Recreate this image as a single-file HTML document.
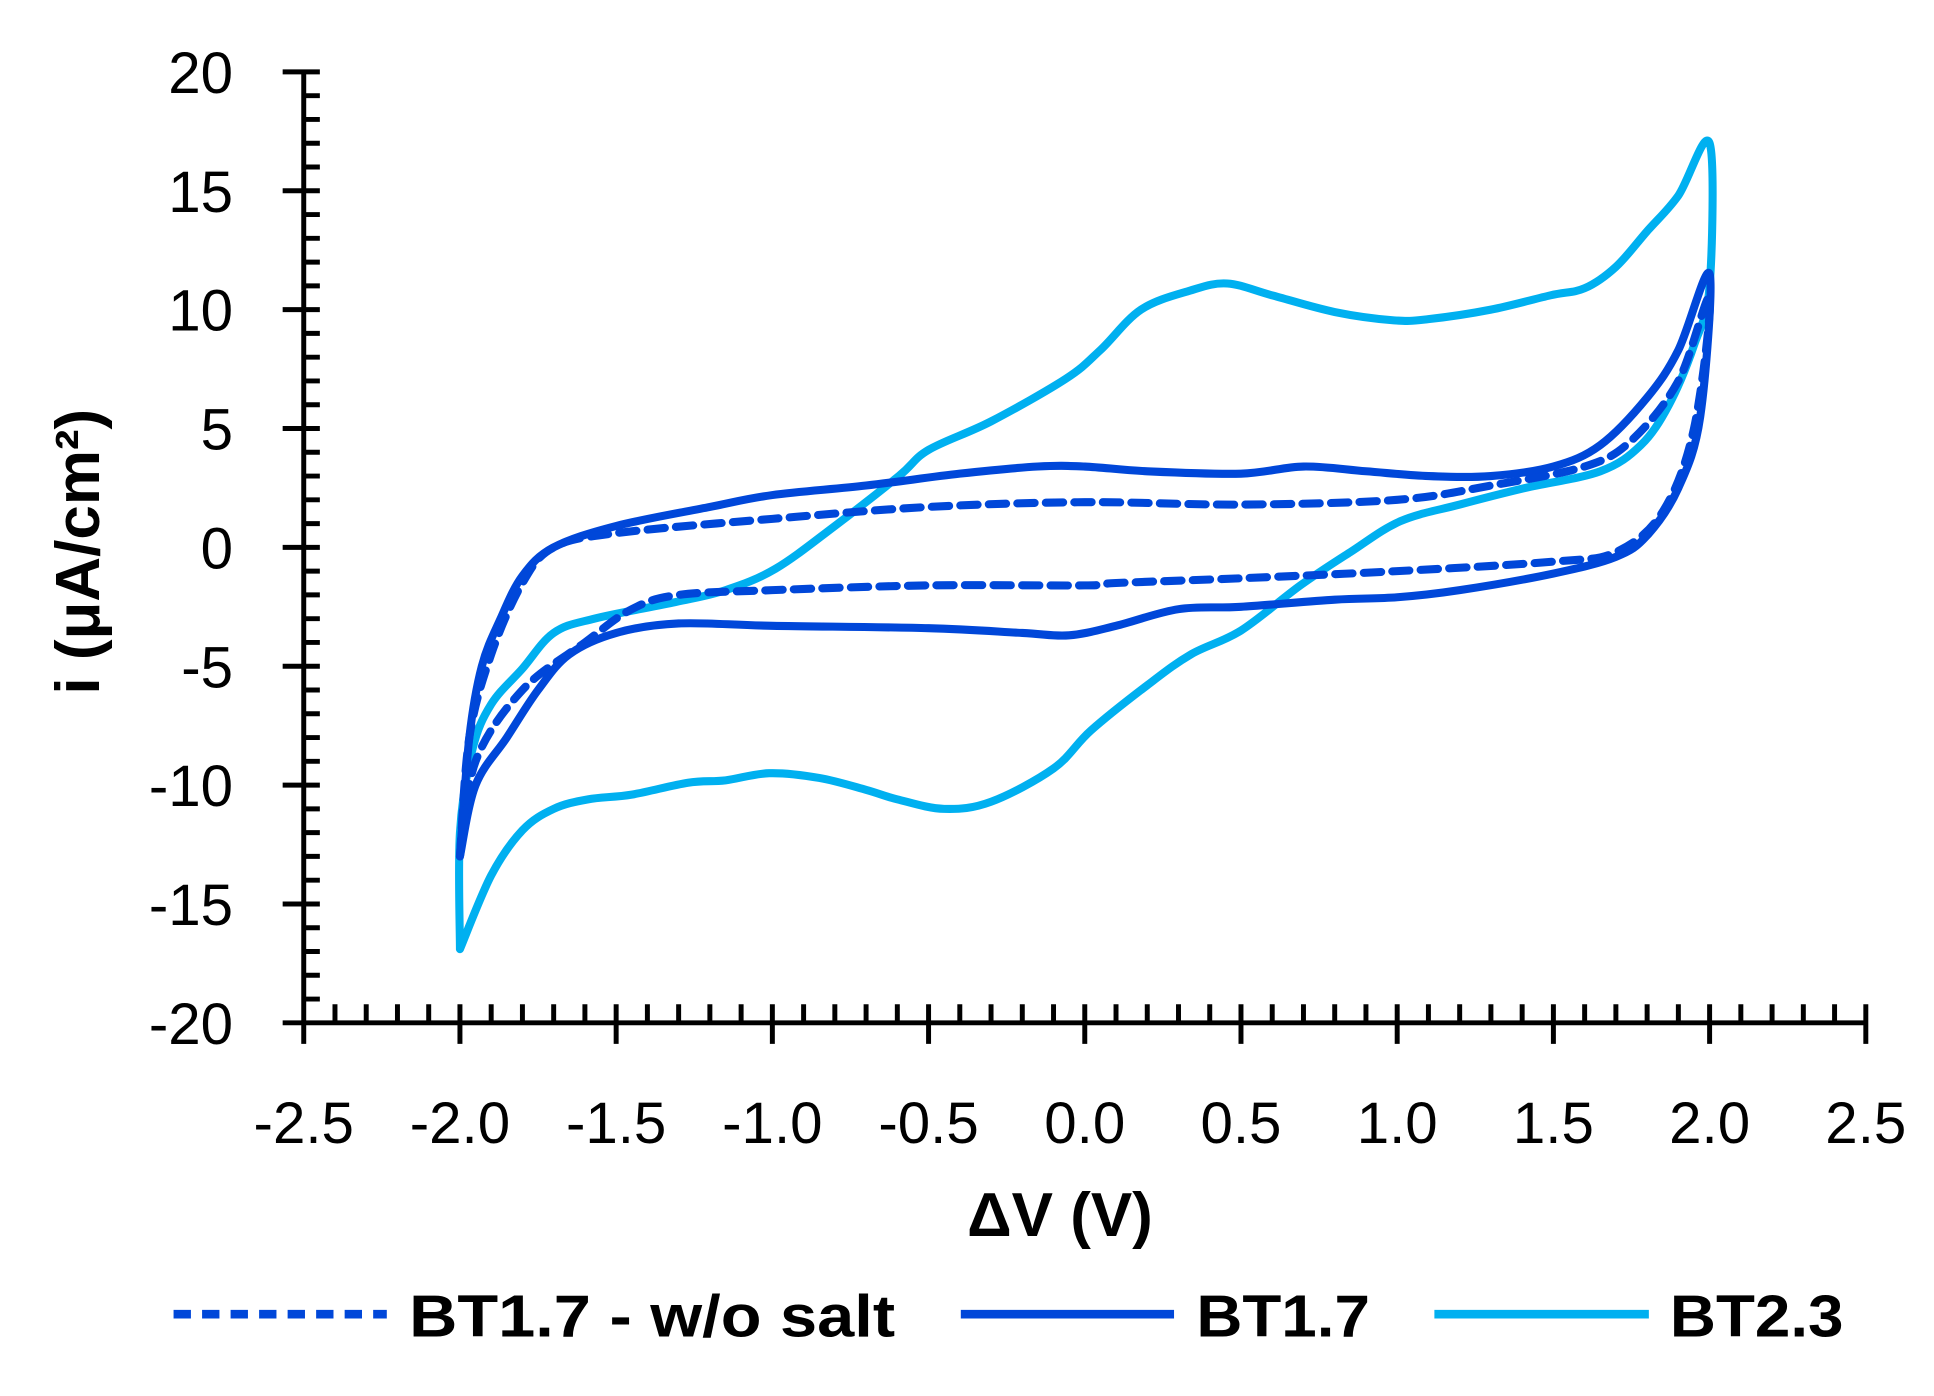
<!DOCTYPE html>
<html><head><meta charset="utf-8"><style>
html,body{margin:0;padding:0;background:#fff;}
svg{display:block;}
text{font-family:"Liberation Sans",sans-serif;fill:#000;}
</style></head><body>
<svg id="s" width="1934" height="1396" viewBox="0 0 1560 1126" preserveAspectRatio="none" xmlns="http://www.w3.org/2000/svg">
<g id="axes" stroke="#000" stroke-width="4" fill="none"></g>
<g id="labels" font-size="47" text-anchor="end"></g>
<g id="xl" font-size="47" text-anchor="middle"></g>
<text x="855" y="997" font-size="50" font-weight="bold" text-anchor="middle">ΔV (V)</text>
<text transform="translate(80,445) rotate(-90)" font-size="50" font-weight="bold" text-anchor="middle">i (μA/cm²)</text>
<g id="data" fill="none" stroke-width="6.5" stroke-linejoin="round" stroke-linecap="round"></g>
<line x1="140" y1="1060" x2="312" y2="1060" stroke="#0047d9" stroke-width="7" stroke-dasharray="14,9"/>
<text x="330" y="1078" font-size="48" font-weight="bold" textLength="392" lengthAdjust="spacingAndGlyphs">BT1.7 - w/o salt</text>
<line x1="775" y1="1060" x2="947" y2="1060" stroke="#0047d9" stroke-width="7"/>
<text x="965" y="1078" font-size="48" font-weight="bold" textLength="140" lengthAdjust="spacingAndGlyphs">BT1.7</text>
<line x1="1157" y1="1060" x2="1330" y2="1060" stroke="#00b0f0" stroke-width="7"/>
<text x="1347" y="1078" font-size="48" font-weight="bold" textLength="140" lengthAdjust="spacingAndGlyphs">BT2.3</text>
</svg>
<script>
var NS="http://www.w3.org/2000/svg";
function X(v){return 245+(v+2.5)*252;}
function Y(i){return 441.5-i*19.175;}
function el(p,t,a,txt){var e=document.createElementNS(NS,t);for(var k in a)e.setAttribute(k,a[k]);if(txt!==undefined)e.textContent=txt;document.getElementById(p).appendChild(e);return e;}
var d="M245,58 L245,825 L1505,825";
for(var i=-20;i<=20;i++){var y=Y(i);if(i%5==0){d+=" M228,"+y+" L258,"+y;}else{d+=" M245,"+y+" L258,"+y;}}
for(var k=0;k<=50;k++){var x=245+k*25.2;if(k%5==0){d+=" M"+x+",810 L"+x+",842";}else{d+=" M"+x+",810 L"+x+",825";}}
el("axes","path",{d:d});
for(var i=-20;i<=20;i+=5)el("labels","text",{x:188,y:Y(i)+17},String(i));
for(var v=-2.5;v<=2.51;v+=0.5)el("xl","text",{x:X(v),y:922},v.toFixed(1));
function path(pts){var P=pts.map(function(p){return[X(p[0]),Y(p[1])];});var s="M"+P[0][0]+","+P[0][1];
for(var i=0;i<P.length-1;i++){var p0=P[Math.max(0,i-1)],p1=P[i],p2=P[i+1],p3=P[Math.min(P.length-1,i+2)];
s+=" C"+(p1[0]+(p2[0]-p0[0])/6)+","+(p1[1]+(p2[1]-p0[1])/6)+" "+(p2[0]-(p3[0]-p1[0])/6)+","+(p2[1]-(p3[1]-p1[1])/6)+" "+p2[0]+","+p2[1];}return s;}
var dashed=[[-2,-13],[-1.97,-8],[-1.9,-4.5],[-1.8,-1.5],[-1.7,0],[-1.5,0.6],[-1,1.2],[-0.5,1.7],[0,1.9],[0.5,1.8],[1,2],[1.3,2.6],[1.6,3.4],[1.75,4.5],[1.9,7],[2,10.5],
[1.95,5],[1.85,1.5],[1.7,-0.2],[1.5,-0.6],[1,-1.0],[0.5,-1.3],[0.1,-1.5],[0,-1.6],[-0.5,-1.6],[-1,-1.8],[-1.3,-2],[-1.45,-2.6],[-1.6,-4],[-1.8,-6],[-1.95,-9],[-2,-13]];
var solid=[[-2,-13],[-1.97,-8],[-1.93,-5],[-1.87,-3],[-1.8,-1.2],[-1.7,0],[-1.5,0.9],[-1.2,1.7],[-1,2.2],[-0.7,2.6],[-0.4,3.1],[-0.15,3.4],[0,3.4],[0.2,3.2],[0.5,3.1],[0.7,3.4],[0.9,3.2],[1.1,3.0],[1.3,3.0],[1.5,3.4],[1.65,4.3],[1.8,6.3],[1.9,8.3],[2,11.5],
[1.97,5.5],[1.9,2.5],[1.8,0.5],[1.7,-0.4],[1.5,-1.1],[1.2,-1.8],[1.0,-2.1],[0.8,-2.2],[0.5,-2.5],[0.3,-2.6],[0.1,-3.3],[-0.05,-3.7],[-0.2,-3.6],[-0.5,-3.4],[-1,-3.3],[-1.3,-3.2],[-1.5,-3.6],[-1.65,-4.5],[-1.75,-6],[-1.85,-8],[-1.95,-10],[-2,-13]];
var cyan=[[-2,-16.9],[-1.9,-13.8],[-1.8,-11.9],[-1.7,-11],[-1.59,-10.6],[-1.45,-10.4],[-1.27,-9.9],[-1.15,-9.8],[-1.01,-9.5],[-0.85,-9.7],[-0.7,-10.2],[-0.6,-10.6],[-0.45,-11],[-0.3,-10.7],[-0.1,-9.3],[0.02,-7.7],[0.2,-5.8],[0.34,-4.5],[0.5,-3.5],[0.69,-1.6],[0.85,-0.2],[1.01,1.1],[1.2,1.8],[1.41,2.5],[1.65,3.2],[1.78,4.3],[1.87,6],[1.95,8.5],[2,11],[2,17],
[1.9,14.8],[1.8,13.3],[1.7,11.8],[1.6,10.9],[1.49,10.6],[1.3,10],[1.1,9.6],[0.99,9.55],[0.8,9.9],[0.6,10.6],[0.456,11.1],[0.337,10.8],[0.18,10],[0.05,8.3],[-0.06,7.1],[-0.3,5.3],[-0.5,4.1],[-0.595,3.0],[-0.8,0.9],[-0.99,-0.9],[-1.15,-1.8],[-1.31,-2.3],[-1.57,-3.0],[-1.7,-3.6],[-1.8,-5.1],[-1.9,-6.6],[-1.96,-8.5],[-2,-12],[-2,-16.9]];
el("data","path",{d:path(cyan),stroke:"#00b0f0"});
el("data","path",{d:path(solid),stroke:"#0047d9"});
el("data","path",{d:path(dashed),stroke:"#0047d9","stroke-dasharray":"14,9"});
</script>
</body></html>
